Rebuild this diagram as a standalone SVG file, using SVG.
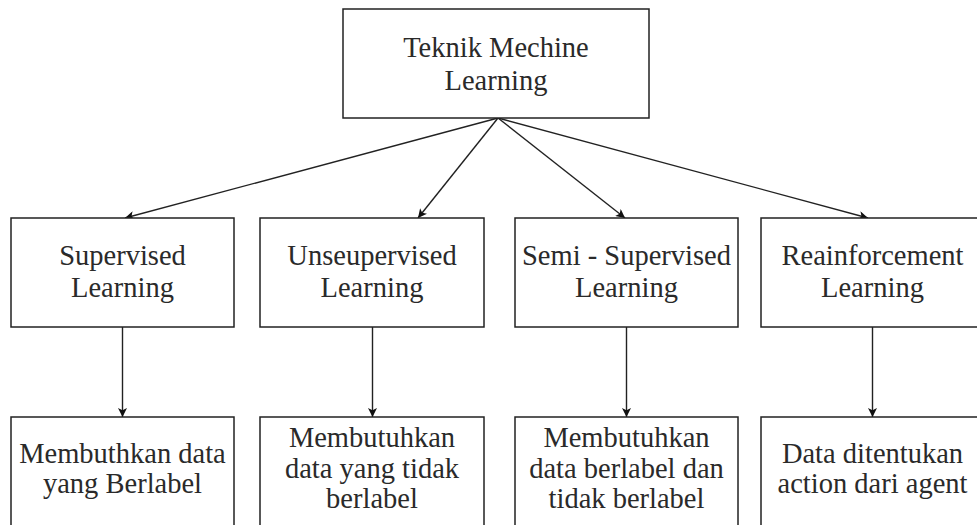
<svg xmlns="http://www.w3.org/2000/svg" width="977" height="525" viewBox="0 0 977 525">
  <style>
    .box { fill: #ffffff; stroke: #222222; stroke-width: 1.5; }
    .lbl { font-family: 'Liberation Serif', Tinos, 'Times New Roman', Times, 'Noto Serif', 'DejaVu Serif', FreeSerif, serif; font-size: 28.5px; fill: #2a2a2a; text-anchor: middle; }
    .edge { stroke: #222222; stroke-width: 1.4; fill: none; marker-end: url(#arrow); }
  </style>
  <defs>
    <marker id="arrow" viewBox="0 0 10 10" refX="10" refY="5" markerWidth="11" markerHeight="9" markerUnits="userSpaceOnUse" orient="auto">
      <path d="M0,0 L10,5 L0,10 L2.5,5 Z" fill="#111111"/>
    </marker>
  </defs>
  <rect width="977" height="525" fill="#ffffff"/>

  <g id="connectors">
    <line class="edge" x1="498" y1="118" x2="125" y2="218"/>
    <line class="edge" x1="498" y1="118" x2="418" y2="218"/>
    <line class="edge" x1="498" y1="118" x2="625" y2="218"/>
    <line class="edge" x1="498" y1="118" x2="868" y2="218"/>
    <line class="edge" x1="122.5" y1="327" x2="122.5" y2="417"/>
    <line class="edge" x1="372.5" y1="327" x2="372.5" y2="417"/>
    <line class="edge" x1="626.5" y1="327" x2="626.5" y2="417"/>
    <line class="edge" x1="872.5" y1="327" x2="872.5" y2="417"/>
  </g>

  <g id="root">
    <rect class="box" x="343" y="9" width="306" height="109"/>
    <text class="lbl" x="496" y="57">Teknik Mechine</text>
    <text class="lbl" x="496" y="90">Learning</text>
  </g>

  <g id="supervised">
    <rect class="box" x="11" y="218" width="223" height="109"/>
    <text class="lbl" x="122.5" y="265">Supervised</text>
    <text class="lbl" x="122.5" y="297">Learning</text>
  </g>
  <g id="unsupervised">
    <rect class="box" x="260" y="218" width="224" height="109"/>
    <text class="lbl" x="372" y="265">Unseupervised</text>
    <text class="lbl" x="372" y="297">Learning</text>
  </g>
  <g id="semi-supervised">
    <rect class="box" x="515" y="218" width="223" height="109"/>
    <text class="lbl" x="626.5" y="265">Semi - Supervised</text>
    <text class="lbl" x="626.5" y="297">Learning</text>
  </g>
  <g id="reinforcement">
    <rect class="box" x="761" y="218" width="223" height="109"/>
    <text class="lbl" x="872.5" y="265">Reainforcement</text>
    <text class="lbl" x="872.5" y="297">Learning</text>
  </g>

  <g id="supervised-desc">
    <rect class="box" x="11" y="417" width="223" height="115"/>
    <text class="lbl" x="122.5" y="463">Membuthkan data</text>
    <text class="lbl" x="122.5" y="493">yang Berlabel</text>
  </g>
  <g id="unsupervised-desc">
    <rect class="box" x="260" y="417" width="224" height="115"/>
    <text class="lbl" x="372" y="447">Membutuhkan</text>
    <text class="lbl" x="372" y="478">data yang tidak</text>
    <text class="lbl" x="372" y="508">berlabel</text>
  </g>
  <g id="semi-supervised-desc">
    <rect class="box" x="515" y="417" width="223" height="115"/>
    <text class="lbl" x="626.5" y="447">Membutuhkan</text>
    <text class="lbl" x="626.5" y="478">data berlabel dan</text>
    <text class="lbl" x="626.5" y="508">tidak berlabel</text>
  </g>
  <g id="reinforcement-desc">
    <rect class="box" x="761" y="417" width="223" height="115"/>
    <text class="lbl" x="872.5" y="463">Data ditentukan</text>
    <text class="lbl" x="872.5" y="493">action dari agent</text>
  </g>
</svg>
